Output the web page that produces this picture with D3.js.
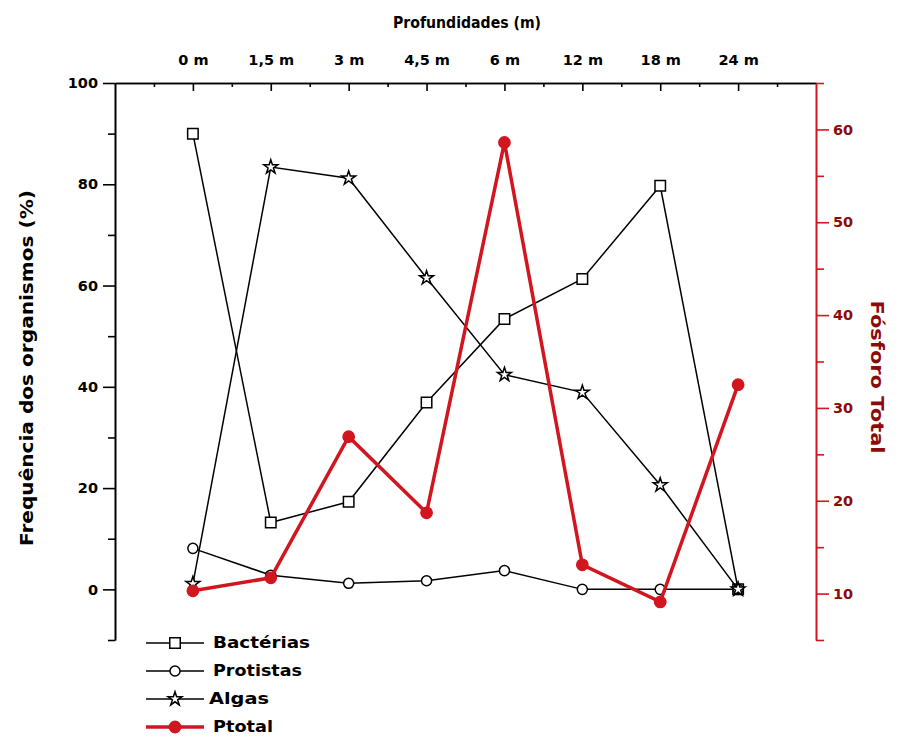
<!DOCTYPE html>
<html>
<head>
<meta charset="utf-8">
<script src="https://cdn.jsdelivr.net/npm/d3@7"></script>
<style>
  body { margin: 0; background: #fff; }
  text { font-family: "DejaVu Sans", sans-serif; font-weight: bold; }
</style>
</head>
<body>
<script>
// depths (categories on the top axis)
var depths = ["0 m", "1,5 m", "3 m", "4,5 m", "6 m", "12 m", "18 m", "24 m"];

// frequency of organisms (%), left axis
var bacterias = [90, 13.2, 17.3, 36.9, 53.4, 61.3, 79.7, 0];
var protistas = [8.1, 2.8, 1.2, 1.7, 3.7, 0, 0, 0];
var algas = [1.1, 83.4, 81.2, 61.5, 42.4, 38.9, 20.6, 0];

// total phosphorus, right axis
var ptotal = [10.3, 11.7, 26.9, 18.7, 58.6, 13.1, 9.1, 32.5];

var leftTicks = [0, 20, 40, 60, 80, 100];
var rightTicks = [10, 20, 30, 40, 50, 60];

var width = 902, height = 738;
var red = "#d2161f", darkRed = "#8e0a0a";

var svg = d3.select("body").append("svg")
    .attr("width", width)
    .attr("height", height);

var x = d3.scaleLinear().domain([-1, 8]).range([115, 816]);
var yL = d3.scaleLinear().domain([-10, 100]).range([640, 83]);
var yR = d3.scaleLinear().domain([5, 65]).range([640, 83]);

function styleAxis(g, color) {
  g.selectAll("path, line").attr("stroke", color).attr("stroke-width", 1.6);
  g.selectAll("text").attr("fill", color === "#000" ? "#000" : darkRed)
    .style("font-size", "14.5px").style("font-weight", "bold")
    .style("font-family", "'DejaVu Sans', sans-serif");
}

// top axis (depths)
var topMinor = svg.append("g").attr("transform", "translate(0,83)")
    .call(d3.axisTop(x).tickValues(d3.range(-0.5, 8, 1)).tickSize(-4).tickSizeOuter(0).tickFormat(""));
styleAxis(topMinor, "#000");
var topAxis = svg.append("g").attr("transform", "translate(0,83)")
    .call(d3.axisTop(x).tickValues(d3.range(0, 8)).tickSize(-8).tickSizeOuter(0)
      .tickPadding(18).tickFormat(function(i) { return depths[i]; }));
styleAxis(topAxis, "#000");

// left axis
var leftMinor = svg.append("g").attr("transform", "translate(115,0)")
    .call(d3.axisLeft(yL).tickValues([-10, 10, 30, 50, 70, 90]).tickSize(7).tickSizeOuter(0).tickFormat(""));
styleAxis(leftMinor, "#000");
var leftAxis = svg.append("g").attr("transform", "translate(115,0)")
    .call(d3.axisLeft(yL).tickValues(leftTicks).tickSize(12).tickSizeOuter(0).tickPadding(5));
styleAxis(leftAxis, "#000");

// right axis
var rightMinor = svg.append("g").attr("transform", "translate(816,0)")
    .call(d3.axisRight(yR).tickValues([5, 15, 25, 35, 45, 55, 65]).tickSize(8).tickSizeOuter(0).tickFormat(""));
styleAxis(rightMinor, red);
var rightAxis = svg.append("g").attr("transform", "translate(816,0)")
    .call(d3.axisRight(yR).tickValues(rightTicks).tickSize(13).tickSizeOuter(0).tickPadding(4));
styleAxis(rightAxis, red);

// titles
svg.append("text")
    .attr("x", 467).attr("y", 28)
    .attr("text-anchor", "middle")
    .attr("textLength", 148).attr("lengthAdjust", "spacingAndGlyphs")
    .style("font-size", "16px")
    .text("Profundidades (m)");

svg.append("text")
    .attr("transform", "translate(33,368) rotate(-90)")
    .attr("text-anchor", "middle")
    .attr("textLength", 356).attr("lengthAdjust", "spacingAndGlyphs")
    .style("font-size", "18px")
    .text("Frequência dos organismos (%)");

svg.append("text")
    .attr("transform", "translate(871,377) rotate(90)")
    .attr("text-anchor", "middle")
    .attr("fill", darkRed)
    .attr("textLength", 153).attr("lengthAdjust", "spacingAndGlyphs")
    .style("font-size", "18px")
    .text("Fósforo Total");

// series
var series = [
  { name: "Bactérias", values: bacterias, y: yL, color: "#000", lw: 1.5, symbol: d3.symbolSquare, size: 110, fill: "#fff" },
  { name: "Protistas", values: protistas, y: yL, color: "#000", lw: 1.5, symbol: d3.symbolCircle, size: 80, fill: "#fff" },
  { name: "Algas", values: algas, y: yL, color: "#000", lw: 1.5, symbol: d3.symbolStar, size: 60, fill: "#fff" },
  { name: "Ptotal", values: ptotal, y: yR, color: red, lw: 3.5, symbol: d3.symbolCircle, size: 100, fill: red }
];

series.forEach(function(s) {
  var line = d3.line()
      .x(function(d, i) { return x(i); })
      .y(function(d) { return s.y(d); });
  svg.append("path")
      .datum(s.values)
      .attr("fill", "none")
      .attr("stroke", s.color)
      .attr("stroke-width", s.lw)
      .attr("d", line);
  svg.append("g").selectAll("path")
      .data(s.values)
      .join("path")
      .attr("transform", function(d, i) { return "translate(" + x(i) + "," + s.y(d) + ")"; })
      .attr("d", d3.symbol().type(s.symbol).size(s.size))
      .attr("fill", s.fill)
      .attr("stroke", s.color)
      .attr("stroke-width", 1.5);
});

// legend
var legendLen = [97, 89, 60, 60];
var legend = svg.append("g").selectAll("g")
    .data(series)
    .join("g")
    .attr("transform", function(d, i) { return "translate(0," + (643 + i * 28) + ")"; });
legend.append("line")
    .attr("x1", 146).attr("x2", 204)
    .attr("stroke", function(d) { return d.color; })
    .attr("stroke-width", function(d) { return d.lw; });
legend.append("path")
    .attr("transform", "translate(175,0)")
    .attr("d", function(d) { return d3.symbol().type(d.symbol).size(d.size)(); })
    .attr("fill", function(d) { return d.fill; })
    .attr("stroke", function(d) { return d.color; })
    .attr("stroke-width", 1.5);
legend.append("text")
    .attr("x", function(d, i) { return i === 2 ? 209 : 213; })
    .attr("dy", "0.36em")
    .attr("textLength", function(d, i) { return legendLen[i]; })
    .attr("lengthAdjust", "spacingAndGlyphs")
    .style("font-size", "15px")
    .text(function(d) { return d.name; });
</script>
</body>
</html>
